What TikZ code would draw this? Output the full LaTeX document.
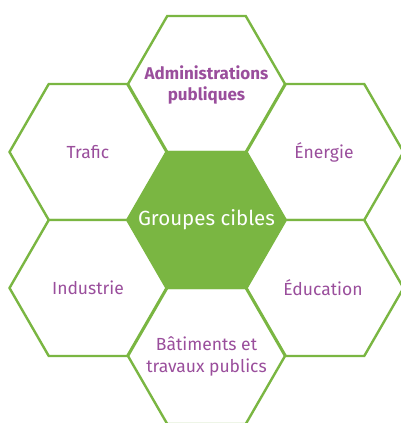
\documentclass[tikz,border=0pt]{standalone}
\usepackage{fontspec}
\setmainfont{Fira Sans}
\definecolor{hexgreen}{HTML}{7AB642}
\definecolor{txtpurple}{HTML}{9A4E9C}
\begin{document}
\begin{tikzpicture}[x=1pt,y=1pt,
  hexline/.style={draw=hexgreen,line width=2.4pt,line join=miter},
  lbl/.style={text=txtpurple,font=\fontsize{17.5}{22}\selectfont,align=center,inner sep=0pt},
  ]
\useasboundingbox (0,0) rectangle (401,423);
\clip (0,0) rectangle (401,423);
\def\R{78.5}
\def\H{68}
\foreach \cx/\cy/\fillc in {206.5/339/white, 88/271/white, 325/271/white, 88/135/white, 325/135/white, 206.5/67/white, 206.5/203/hexgreen}{
  \draw[hexline,fill=\fillc] (\cx-\R,\cy) -- (\cx-\R/2,\cy+\H) -- (\cx+\R/2,\cy+\H) -- (\cx+\R,\cy) -- (\cx+\R/2,\cy-\H) -- (\cx-\R/2,\cy-\H) -- cycle;
}
\node[lbl,font=\fontsize{17}{21}\selectfont\bfseries] (admin) at (206.5,338) {Administrations\\publiques};
\node[lbl] (trafic) at (88,271) {Trafic};
\node[lbl] (energie) at (324,271) {Énergie};
\node[lbl,text=white,font=\fontsize{20.5}{24}\selectfont] (groupes) at (206.5,203) {Groupes cibles};
\node[lbl] (industrie) at (88,135) {Industrie};
\node[lbl] (education) at (323,135) {Éducation};
\node[lbl] (batiments) at (206.5,67) {Bâtiments et\\travaux publics};
\end{tikzpicture}
\end{document}
